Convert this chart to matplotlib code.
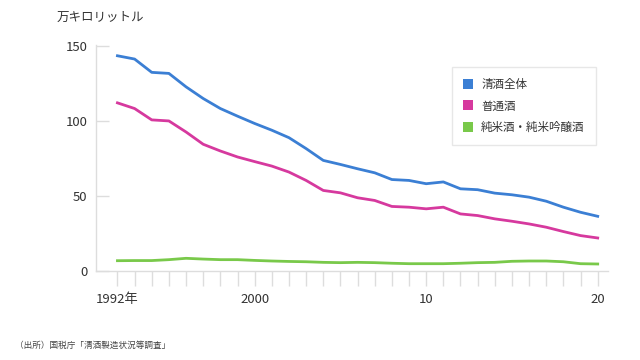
import numpy as np
import matplotlib
matplotlib.use("Agg")
import matplotlib.pyplot as plt
from matplotlib.lines import Line2D

plt.rcParams["font.family"] = ["Noto Sans CJK JP", "DejaVu Sans"]

# datos (万キロリットル)
years = list(range(1992, 2021))
seishu_total = [143.8, 141.6, 132.7, 132.0, 123.0, 115.2, 108.5, 103.4, 98.5, 94.0,
                89.0, 81.7, 73.8, 71.1, 68.2, 65.5, 61.0, 60.4, 58.2, 59.4,
                54.8, 54.2, 51.9, 50.8, 49.2, 46.5, 42.5, 39.1, 36.4]
futsushu = [112.3, 108.5, 100.9, 100.2, 92.8, 84.6, 80.1, 76.1, 73.0, 70.0,
            66.0, 60.4, 53.7, 52.1, 48.8, 47.0, 43.0, 42.5, 41.4, 42.5,
            38.0, 36.9, 34.7, 33.1, 31.3, 29.1, 26.2, 23.5, 21.9]
junmai = [6.7, 6.8, 6.8, 7.4, 8.3, 7.8, 7.4, 7.4, 6.9, 6.5,
          6.2, 6.0, 5.6, 5.4, 5.6, 5.4, 5.0, 4.7, 4.7, 4.7,
          5.0, 5.4, 5.6, 6.3, 6.5, 6.5, 6.0, 4.7, 4.5]

series = [("清酒全体", seishu_total, "#3b7fd4"),
          ("普通酒", futsushu, "#d6399e"),
          ("純米酒・純米吟醸酒", junmai, "#79c94a")]

xticks = years
xlabels = ["1992年" if y == 1992 else "2000" if y == 2000 else "10" if y == 2010
           else "20" if y == 2020 else "" for y in years]

fig = plt.figure(figsize=(6.4, 3.6), dpi=100)
ax = fig.add_axes([0.15, 0.248, 0.80, 0.627])

for name, vals, col in series:
    ax.plot(years, vals, color=col, lw=2.0, solid_joinstyle="round")

ax.set_xlim(1990.75, 2020.6)
ax.set_ylim(0, 151)
ax.set_yticks([0, 50, 100, 150])
ax.set_xticks(xticks)
ax.set_xticklabels(xlabels)

for s in ["top", "right"]:
    ax.spines[s].set_visible(False)
for s in ["left", "bottom"]:
    ax.spines[s].set_color("#dddddd")
    ax.spines[s].set_linewidth(1.0)

ax.tick_params(axis="y", direction="in", length=9, width=1, color="#dddddd",
               labelsize=9.5, labelcolor="#333333", pad=6)
ax.tick_params(axis="x", direction="out", length=11, width=1, color="#dddddd",
               labelsize=9.5, labelcolor="#333333", pad=5)

fig.text(57 / 640, 1 - 17 / 360, "万キロリットル", fontsize=9, color="#333333",
         ha="left", va="center")
fig.text(15 / 640, 1 - 345 / 360, "（出所）国税庁「清酒製造状況等調査」", fontsize=6.2,
         color="#444444", ha="left", va="center")

handles = [Line2D([], [], marker="s", ls="none", markersize=7.2, color=c,
                  markeredgewidth=0) for _, _, c in series]
leg = ax.legend(handles, [n for n, _, _ in series], loc="upper left",
                bbox_to_anchor=(0.695, 0.903), borderaxespad=0, fontsize=8.3,
                frameon=True, fancybox=False, edgecolor="#e2e2e2",
                handlelength=0.9, handletextpad=0.7, labelspacing=0.75,
                borderpad=0.95)
leg.get_frame().set_linewidth(1.0)
for t in leg.get_texts():
    t.set_color("#333333")

fig.savefig("out.png", dpi=100, facecolor="white")
